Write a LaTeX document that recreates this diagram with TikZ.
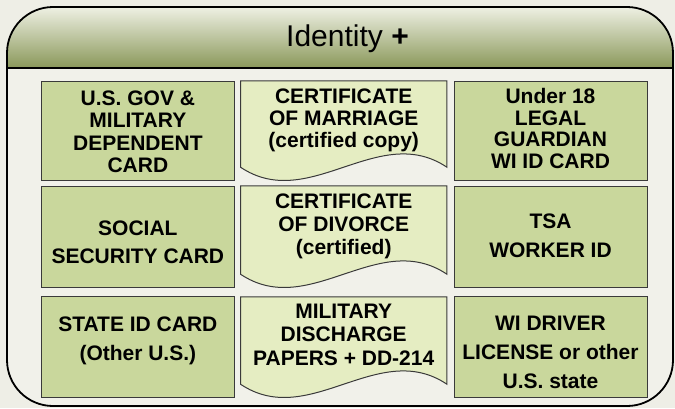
\documentclass[tikz,border=0pt]{standalone}
\usepackage{fontspec}
\setmainfont{Liberation Sans}
\usetikzlibrary{calc}
\definecolor{bgcol}{HTML}{EEEEE6}
\definecolor{innercol}{HTML}{F1F1EA}
\definecolor{hdtop}{HTML}{EEF0E3}
\definecolor{hdbot}{HTML}{8A985A}
\definecolor{boxfill}{HTML}{C9D79C}
\definecolor{docfill}{HTML}{E5EDC2}
\definecolor{edgecol}{HTML}{3A3A3A}
\newcommand\docwave[1]{%
  \filldraw[docline] (#1.north west) -- (#1.north east) -- ($(#1.south east)+(0,-13)$)
    .. controls ($(#1.south east)+(-68.7,-59)$) and ($(#1.south west)+(68.7,33)$) ..
    ($(#1.south west)+(0,-13)$) -- cycle;}
\begin{document}
\begin{tikzpicture}[x=1pt,y=-1pt,
  card/.style={draw=edgecol, fill=boxfill, line width=1pt, inner sep=0pt},
  docnode/.style={draw=none, inner sep=0pt},
  docline/.style={draw=edgecol, fill=docfill, line width=1pt},
  txt/.style={font=\fontsize{21}{#1}\selectfont\bfseries, align=center, anchor=base, inner sep=0pt}]
\useasboundingbox (0,0) rectangle (675,408);
\fill[bgcol] (0,0) rectangle (675,408);
% container
\fill[innercol, rounded corners=46pt] (7,7) rectangle (673,406);
\shade[top color=hdtop, bottom color=hdbot, rounded corners=46pt] (7,68) -- (7,7) -- (673,7) -- (673,68);
\draw[black, line width=1.8pt, rounded corners=46pt] (7,7) rectangle (673,406);
\coordinate (hl) at (7,68);
\coordinate (hr) at (673,68);
\draw[black, line width=1.8pt] (hl) -- (hr);
\node[font=\fontsize{30}{36}\selectfont, anchor=base, inner sep=0pt] (title) at (347.5,46.7) {Identity \textbf{+}};
% row 1
\node[card, minimum width=192.3pt, minimum height=99pt] (b11) at (137.85,130.5) {};
\node[docnode, minimum width=206pt, minimum height=99pt] (d12) at (343.7,130.5) {};
\docwave{d12}
\node[card, minimum width=193pt, minimum height=99pt] (b13) at (550.5,130.5) {};
% row 2
\node[card, minimum width=192.3pt, minimum height=101pt] (b21) at (137.85,236.5) {};
\node[docnode, minimum width=206pt, minimum height=101pt] (d22) at (343.7,236.5) {};
\docwave{d22}
\node[card, minimum width=193pt, minimum height=101pt] (b23) at (550.5,236.5) {};
% row 3
\node[card, minimum width=192.3pt, minimum height=101pt] (b31) at (137.85,346.5) {};
\node[docnode, minimum width=206pt, minimum height=100pt] (d32) at (343.7,347) {};
\docwave{d32}
\node[card, minimum width=193pt, minimum height=101pt] (b33) at (550.5,346.5) {};
% texts (base anchor = last line's baseline)
\node[txt=22.5] (t11) at (137.85,172.7) {U.S. GOV \&\\MILITARY\\DEPENDENT\\CARD};
\node[txt=22] (t12) at (343.7,147) {CERTIFICATE\\OF MARRIAGE\\(certified copy)};
\node[txt=21.5] (t13) at (550.5,168.3) {Under 18\\LEGAL\\GUARDIAN\\WI ID CARD};
\node[txt=28.3] (t21) at (137.85,263.3) {SOCIAL\\SECURITY CARD};
\node[txt=23] (t22) at (343.7,254.5) {CERTIFICATE\\OF DIVORCE\\(certified)};
\node[txt=29] (t23) at (550.5,257.3) {TSA\\WORKER ID};
\node[txt=29] (t31) at (137.85,360.7) {STATE ID CARD\\(Other U.S.)};
\node[txt=23.3] (t32) at (343.7,365) {MILITARY\\DISCHARGE\\PAPERS + DD-214};
\node[txt=29] (t33) at (550.5,388.3) {WI DRIVER\\LICENSE or other\\U.S. state};
\end{tikzpicture}
\end{document}
